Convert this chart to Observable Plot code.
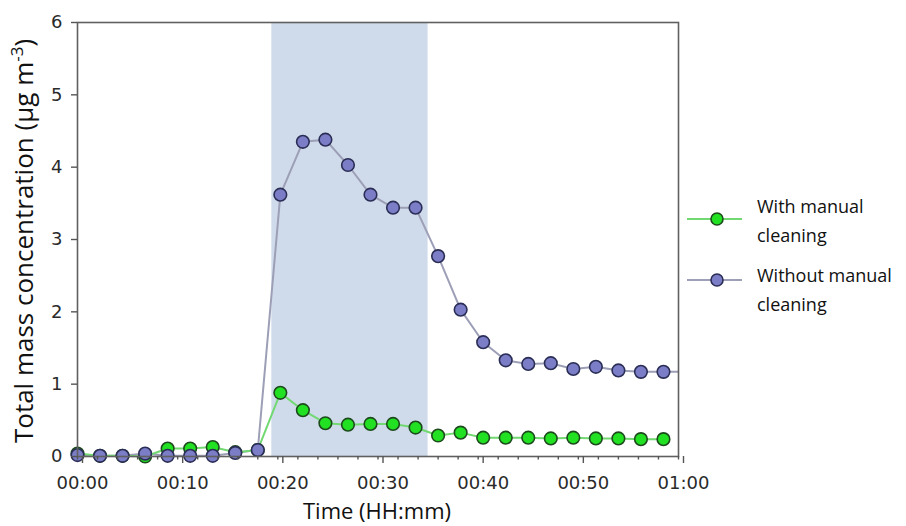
<!DOCTYPE html>
<html>
<head>
<meta charset="utf-8">
<script src="https://cdn.jsdelivr.net/npm/d3@7"></script>
<script src="https://cdn.jsdelivr.net/npm/@observablehq/plot@0.6"></script>
<style>
  html, body { margin: 0; padding: 0; background: #fff; }
  #chart { width: 906px; height: 526px; }
</style>
</head>
<body>
<div id="chart"></div>
<script>
// Time in minutes since start
const times = [0, 2.25, 4.5, 6.75, 9, 11.25, 13.5, 15.75, 18, 20.25, 22.5, 24.75, 27, 29.25,
  31.5, 33.75, 36, 38.25, 40.5, 42.75, 45, 47.25, 49.5, 51.75, 54, 56.25, 58.5];
// Total mass concentration (µg m-3)
const withCleaning = [0.04, 0.01, 0.01, 0.00, 0.11, 0.11, 0.13, 0.06, 0.09, 0.88, 0.64, 0.46, 0.44, 0.45,
  0.45, 0.40, 0.29, 0.33, 0.26, 0.26, 0.26, 0.25, 0.26, 0.25, 0.25, 0.24, 0.24];
const withoutCleaning = [0.02, 0.01, 0.01, 0.04, 0.01, 0.01, 0.01, 0.05, 0.09, 3.62, 4.35, 4.38, 4.03, 3.62,
  3.44, 3.44, 2.77, 2.03, 1.58, 1.33, 1.28, 1.29, 1.21, 1.24, 1.19, 1.17, 1.17];
// line of the "without" series continues beyond the last sample (clipped at the frame)
const withoutTail = [60.75, 1.17];
// Shaded period (minutes)
const shadeStart = 19.4, shadeEnd = 35.0;
// Axes
const xTicks = [0, 10, 20, 30, 40, 50, 60];
const xMinorTicks = d3.range(0, 61, 2);
const yTicks = [0, 1, 2, 3, 4, 5, 6];
const seriesNames = [["With manual", "cleaning"], ["Without manual", "cleaning"]];
const seriesFill = ["#22e022", "#7b7ec6"];
const seriesStroke = ["#1d4a1d", "#2a2d55"];
const seriesLine = ["#72d872", "#9c9fb6"];

const withData = times.map((t, i) => ({t, v: withCleaning[i]}));
const withoutData = times.map((t, i) => ({t, v: withoutCleaning[i]}));
const withoutLine = withoutData.concat([{t: withoutTail[0], v: withoutTail[1]}]);

const fmt = m => `${String(Math.floor(m / 60)).padStart(2, "0")}:${String(m % 60).padStart(2, "0")}`;

const plot = Plot.plot({
  width: 906,
  height: 526,
  marginLeft: 77,
  marginRight: 228,
  marginTop: 22,
  marginBottom: 70,
  style: {fontFamily: "'DejaVu Sans', sans-serif", fontSize: "18px", color: "#333", background: "#fff"},
  x: {domain: [0, 60]},
  y: {domain: [0, 6]},
  marks: [
    Plot.rect([{a: shadeStart, b: shadeEnd}], {x1: "a", x2: "b", y1: 0, y2: 6, fill: "#cfdbea"}),
    Plot.line(withoutLine, {x: "t", y: "v", stroke: seriesLine[1], strokeWidth: 2, clip: true}),
    Plot.line(withData, {x: "t", y: "v", stroke: seriesLine[0], strokeWidth: 2}),
    Plot.dot(withData, {x: "t", y: "v", r: 6.3, fill: seriesFill[0], stroke: seriesStroke[0], strokeWidth: 1.6}),
    Plot.dot(withoutData, {x: "t", y: "v", r: 6.3, fill: seriesFill[1], stroke: seriesStroke[1], strokeWidth: 1.6}),
    Plot.frame({stroke: "#606060", strokeWidth: 1.6}),
    Plot.axisX({ticks: xMinorTicks, tickSize: 3.5, text: null, label: null, stroke: "#555", strokeWidth: 1.4}),
    Plot.axisX({ticks: xTicks, tickSize: 7, tickPadding: 13, tickFormat: fmt, label: null, dx: 5,
      stroke: "#555", strokeWidth: 1.4, fill: "#2a2a2a"}),
    Plot.axisY({ticks: yTicks, tickSize: 6, tickPadding: 9, tickFormat: d => String(d), label: null,
      stroke: "#555", strokeWidth: 1.4, fill: "#2a2a2a"})
  ]
});

document.getElementById("chart").appendChild(plot);

const svg = d3.select(plot);
const titleFont = "'Open Sans', sans-serif";

// Y axis title
const yt = svg.append("text")
  .attr("transform", "translate(33,241) rotate(-90)")
  .attr("text-anchor", "middle")
  .attr("font-family", titleFont)
  .attr("font-size", 26)
  .attr("fill", "#111");
yt.append("tspan").text("Total mass concentration (µg m");
yt.append("tspan").attr("font-size", 17).attr("dy", -10).text("-3");
yt.append("tspan").attr("dy", 10).text(")");

// X axis title
svg.append("text")
  .attr("x", 377).attr("y", 519)
  .attr("text-anchor", "middle")
  .attr("font-family", titleFont)
  .attr("font-size", 22)
  .attr("fill", "#111")
  .text("Time (HH:mm)");

// Legend
const legendRows = [{sy: 219, ty: 213}, {sy: 280, ty: 282}];
seriesNames.forEach((lines, i) => {
  const g = svg.append("g");
  g.append("line").attr("x1", 687).attr("x2", 742).attr("y1", legendRows[i].sy).attr("y2", legendRows[i].sy)
    .attr("stroke", seriesLine[i]).attr("stroke-width", 2);
  g.append("circle").attr("cx", 717).attr("cy", legendRows[i].sy).attr("r", 6)
    .attr("fill", seriesFill[i]).attr("stroke", seriesStroke[i]).attr("stroke-width", 1.6);
  lines.forEach((s, j) => {
    g.append("text").attr("x", 757).attr("y", legendRows[i].ty + j * 28.5)
      .attr("text-anchor", "start")
      .attr("font-family", titleFont).attr("font-size", 18).attr("fill", "#111").text(s);
  });
});
</script>
</body>
</html>
